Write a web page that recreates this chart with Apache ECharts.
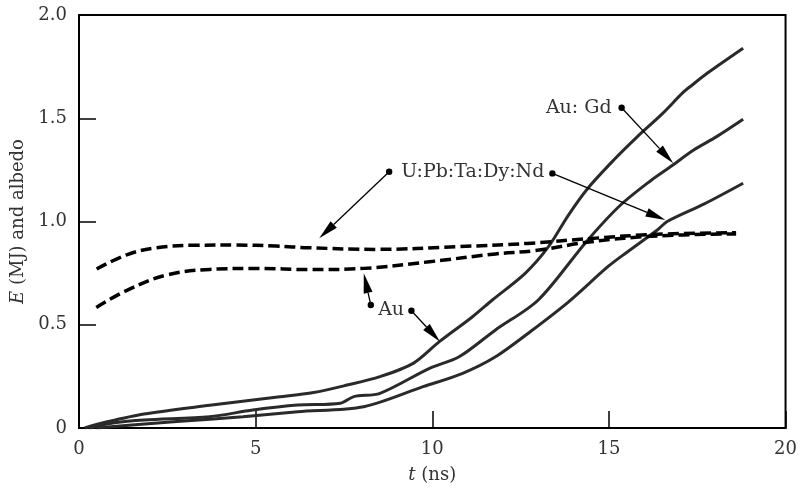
<!DOCTYPE html>
<html>
<head>
<meta charset="utf-8">
<script src="https://cdn.jsdelivr.net/npm/echarts@6/dist/echarts.min.js"></script>
<style>
  html, body { margin: 0; padding: 0; background: #fff; }
  #chart { width: 800px; height: 491px; }
</style>
</head>
<body>
<div id="chart"></div>
<script>
// energy curves (solid), [t ns, E MJ]
const auEnergy = [[0.16,0],[0.8,0.03],[1.84,0.068],[3.7,0.11],[5.57,0.149],[6.64,0.172],[7.59,0.208],[8.52,0.249],[9.46,0.313],[10.2,0.418],[11.14,0.539],[11.7,0.62],[12.63,0.749],[13.29,0.878],[13.85,1.03],[14.4,1.16],[15.15,1.3],[15.8,1.41],[16.5,1.52],[17.1,1.625],[17.35,1.66],[17.8,1.72],[18.8,1.839]];
const auGdEnergy = [[0.3,0],[1.0,0.025],[1.84,0.039],[3.7,0.055],[4.92,0.087],[6.19,0.111],[7.4,0.12],[7.78,0.152],[8.52,0.168],[9.92,0.289],[10.76,0.345],[11.79,0.475],[13.0,0.62],[14.35,0.9],[15.3,1.075],[16.2,1.2],[16.74,1.265],[17.4,1.346],[18.05,1.411],[18.8,1.495]];
const uMixEnergy = [[0.5,0],[1.5,0.015],[2.77,0.031],[4.64,0.055],[6.19,0.079],[8.06,0.103],[9.74,0.2],[10.86,0.265],[11.79,0.345],[12.8,0.47],[13.85,0.61],[14.97,0.781],[15.5,0.85],[16.37,0.959],[16.65,1.0],[17.7,1.085],[18.8,1.185]];

// albedo curves (dashed)
const mixAlbedo = [[0.5,0.77],[1.37,0.84],[2.2,0.873],[3.33,0.885],[4.45,0.886],[5.57,0.881],[6.5,0.873],[8.43,0.865],[10.67,0.878],[12.7,0.894],[14.5,0.918],[16.36,0.938],[18.6,0.946]];
const auAlbedo = [[0.49,0.584],[1.37,0.668],[2.49,0.741],[3.7,0.768],[5.1,0.773],[6.5,0.767],[8.06,0.773],[9.92,0.805],[11.79,0.843],[12.9,0.859],[14.5,0.902],[16.36,0.93],[18.6,0.94]];

const xTicks = [0, 5, 10, 15, 20];
const yTicks = [0, 0.5, 1.0, 1.5, 2.0];

// annotation arrows: [from dot, to tip], in data units
const arrows = [
  [[8.78, 1.241], [6.8, 0.919]],
  [[13.4, 1.233], [16.6, 1.007]],
  [[15.36, 1.551], [16.82, 1.282]],
  [[8.26, 0.596], [8.06, 0.749]],
  [[9.41, 0.568], [10.22, 0.418]]
];

const font = "DejaVu Serif";
const solidColor = "#2a2a2a";

const chart = echarts.init(document.getElementById("chart"));

function solid(name, data) {
  return {
    name: name, type: "line", data: data, showSymbol: false, smooth: 0.3,
    lineStyle: { color: solidColor, width: 3 }, z: 2
  };
}
function dashed(name, data) {
  return {
    name: name, type: "line", data: data, showSymbol: false, smooth: 0.4,
    lineStyle: { color: "#000", width: 3.5, type: [11, 5] }, z: 3
  };
}

const option = {
  animation: false,
  grid: { left: 79, right: 7, top: 15, bottom: 63, show: true, borderColor: "#000", borderWidth: 2 },
  xAxis: {
    type: "value", min: 0, max: 20, interval: 5,
    name: "{i|t} (ns)", nameLocation: "middle", nameGap: 38,
    nameTextStyle: { fontFamily: font, fontSize: 18, color: "#333", rich: { i: { fontFamily: font, fontStyle: "italic", fontSize: 18, color: "#333" } } },
    axisLine: { lineStyle: { color: "#000", width: 2 } },
    axisTick: { inside: true, length: 17, lineStyle: { color: "#000", width: 1.5 } },
    axisLabel: { fontFamily: font, fontSize: 18, color: "#333", margin: 12,
      formatter: v => xTicks.includes(v) ? String(v) : "" },
    splitLine: { show: false }
  },
  yAxis: {
    type: "value", min: 0, max: 2, interval: 0.5,
    name: "{i|E} (MJ) and albedo", nameLocation: "middle", nameGap: 45,
    nameTextStyle: { fontFamily: font, fontSize: 18, color: "#333", rich: { i: { fontFamily: font, fontStyle: "italic", fontSize: 18, color: "#333" } } },
    axisLine: { lineStyle: { color: "#000", width: 2 } },
    axisTick: { inside: true, length: 17, lineStyle: { color: "#000", width: 1.5 } },
    axisLabel: { fontFamily: font, fontSize: 18, color: "#333", margin: 12,
      formatter: v => yTicks.includes(v) ? (v === 0 ? "0" : v.toFixed(1)) : "" },
    splitLine: { show: false }
  },
  series: [
    solid("Au", auEnergy),
    solid("Au:Gd", auGdEnergy),
    solid("U:Pb:Ta:Dy:Nd", uMixEnergy),
    dashed("U:Pb:Ta:Dy:Nd albedo", mixAlbedo),
    dashed("Au albedo", auAlbedo)
  ]
};
chart.setOption(option);

// annotations: arrows and text, positioned through the grid's scales
function px(p) { return chart.convertToPixel({ gridIndex: 0 }, p); }

const graphics = [];
arrows.forEach(a => {
  const s = px(a[0]);
  const e = px(a[1]);
  const dx = e[0] - s[0], dy = e[1] - s[1];
  const len = Math.sqrt(dx * dx + dy * dy);
  const ux = dx / len, uy = dy / len;
  const headLen = 20, headW = 4.5;
  const bx = e[0] - ux * headLen, by = e[1] - uy * headLen;
  graphics.push({ type: "line", z: 10, shape: { x1: s[0], y1: s[1], x2: bx, y2: by }, style: { stroke: "#000", lineWidth: 1.3 } });
  graphics.push({ type: "polygon", z: 10, shape: { points: [[e[0], e[1]], [bx - uy * headW, by + ux * headW], [bx + uy * headW, by - ux * headW]] }, style: { fill: "#000" } });
  graphics.push({ type: "circle", z: 10, shape: { cx: s[0], cy: s[1], r: 3.2 }, style: { fill: "#000" } });
});

const textStyle = { fontFamily: font, fontSize: 19, fill: "#333" };
const d1 = px(arrows[0][0]);
const d3 = px(arrows[2][0]);
const d4 = px(arrows[3][0]);
const d5 = px(arrows[4][0]);
graphics.push({ type: "text", z: 10, x: d1[0] + 12, y: d1[1], style: Object.assign({ text: "U:Pb:Ta:Dy:Nd", textAlign: "left", textVerticalAlign: "middle" }, textStyle) });
graphics.push({ type: "text", z: 10, x: d3[0] - 10, y: d3[1], style: Object.assign({ text: "Au: Gd", textAlign: "right", textVerticalAlign: "middle" }, textStyle) });
graphics.push({ type: "text", z: 10, x: (d4[0] + d5[0]) / 2, y: (d4[1] + d5[1]) / 2 + 2, style: Object.assign({ text: "Au", textAlign: "center", textVerticalAlign: "middle" }, textStyle) });

chart.setOption({ graphic: graphics });
</script>
</body>
</html>
